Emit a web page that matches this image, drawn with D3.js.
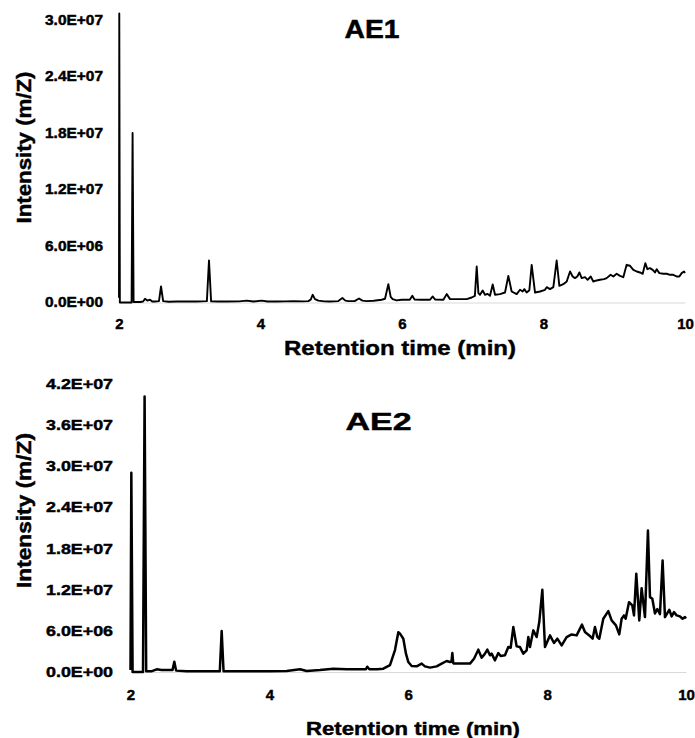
<!DOCTYPE html>
<html>
<head>
<meta charset="utf-8">
<script src="https://cdn.jsdelivr.net/npm/d3@7"></script>
<style>
  html, body { margin: 0; padding: 0; background: #fff; }
  text { font-family: "Liberation Sans", Arial, sans-serif; font-weight: bold; fill: #000; stroke: #000; stroke-width: 0.45px; }
</style>
</head>
<body>
<svg id="mainsvg" width="695" height="738"></svg>
<script>
// values in 1e6 (m/Z intensity), time in min
const ae1Time = [2.000, 2.004, 2.012, 2.100, 2.178, 2.192, 2.206, 2.300, 2.340, 2.368, 2.400, 2.438, 2.470, 2.509, 2.565, 2.594, 2.624, 2.700, 2.815, 2.950,
  3.098, 3.242, 3.272, 3.302, 3.400, 3.522, 3.700, 3.805, 3.899, 4.016, 4.100, 4.229, 4.350, 4.464, 4.600, 4.676, 4.710, 4.737, 4.770, 4.818,
  4.900, 4.982, 5.100, 5.157, 5.200, 5.241, 5.330, 5.392, 5.440, 5.500, 5.600, 5.712, 5.760, 5.807, 5.840, 5.868, 5.924, 5.995, 6.066, 6.110,
  6.146, 6.180, 6.255, 6.396, 6.434, 6.470, 6.585, 6.632, 6.679, 6.800, 6.914, 6.985, 7.030, 7.056, 7.080, 7.103, 7.140, 7.173, 7.206, 7.244,
  7.282, 7.315, 7.385, 7.456, 7.503, 7.550, 7.621, 7.668, 7.706, 7.729, 7.762, 7.800, 7.833, 7.880, 7.951, 8.021, 8.045, 8.092, 8.139, 8.186,
  8.224, 8.280, 8.328, 8.375, 8.412, 8.445, 8.478, 8.507, 8.540, 8.587, 8.624, 8.667, 8.704, 8.751, 8.799, 8.855, 8.893, 8.949, 8.987, 9.034,
  9.081, 9.128, 9.175, 9.223, 9.270, 9.317, 9.364, 9.402, 9.439, 9.468, 9.505, 9.543, 9.576, 9.600, 9.637, 9.694, 9.741, 9.788, 9.835, 9.882,
  9.920, 9.953, 9.986, 10.000];
const ae1Intensity = [0.5, 30.7, 0.0, 0.0, 0.0, 18.0, 0.05, 0.05, 0.1, 0.39, 0.2, 0.29, 0.1, 0.11, 0.15, 1.70, 0.15, 0.08, 0.1, 0.1,
  0.11, 0.15, 4.46, 0.12, 0.1, 0.1, 0.12, 0.2, 0.1, 0.2, 0.1, 0.1, 0.12, 0.15, 0.12, 0.15, 0.3, 0.82, 0.36, 0.2,
  0.12, 0.1, 0.15, 0.47, 0.2, 0.15, 0.15, 0.43, 0.2, 0.15, 0.18, 0.29, 0.4, 1.95, 0.6, 0.36, 0.22, 0.29, 0.29, 0.29,
  0.71, 0.3, 0.29, 0.29, 0.64, 0.3, 0.29, 0.89, 0.36, 0.36, 0.36, 0.53, 0.7, 3.82, 1.0, 0.82, 1.28, 0.82, 0.92, 0.71,
  1.91, 0.82, 0.89, 1.06, 2.83, 1.17, 0.89, 1.35, 1.17, 1.42, 1.06, 1.3, 4.00, 1.06, 1.17, 1.35, 1.63, 1.42, 1.63, 4.46,
  1.77, 1.95, 2.23, 3.29, 2.76, 2.59, 2.76, 3.19, 2.59, 2.69, 2.41, 2.76, 2.23, 2.34, 2.41, 2.48, 2.59, 2.94, 2.76, 3.05,
  2.83, 2.69, 4.00, 3.90, 3.47, 3.29, 3.19, 3.05, 4.18, 3.54, 3.65, 3.47, 3.19, 3.54, 3.12, 3.05, 3.05, 2.94, 2.94, 2.76,
  2.76, 3.12, 3.29, 3.12];

const ae2Time = [2.000, 2.012, 2.030, 2.100, 2.180, 2.203, 2.226, 2.300, 2.377, 2.449, 2.569, 2.605, 2.631, 2.657, 2.809, 3.000, 3.193, 3.286, 3.313, 3.340,
  3.500, 3.769, 4.000, 4.249, 4.441, 4.537, 4.729, 4.921, 5.113, 5.305, 5.390, 5.410, 5.440, 5.550, 5.641, 5.737, 5.809, 5.857, 5.881, 5.929,
  5.967, 6.001, 6.049, 6.121, 6.193, 6.241, 6.313, 6.409, 6.481, 6.553, 6.601, 6.622, 6.635, 6.648, 6.659, 6.745, 6.889, 6.947, 7.009, 7.057,
  7.100, 7.139, 7.177, 7.201, 7.249, 7.297, 7.331, 7.393, 7.441, 7.475, 7.513, 7.561, 7.609, 7.657, 7.705, 7.729, 7.753, 7.801, 7.849, 7.887,
  7.931, 7.969, 8.041, 8.099, 8.147, 8.209, 8.281, 8.353, 8.425, 8.502, 8.545, 8.607, 8.655, 8.689, 8.723, 8.751, 8.809, 8.881, 8.929, 8.991,
  9.039, 9.073, 9.107, 9.131, 9.179, 9.227, 9.251, 9.284, 9.327, 9.361, 9.409, 9.452, 9.481, 9.515, 9.553, 9.587, 9.625, 9.663, 9.697, 9.759,
  9.793, 9.827, 9.865, 9.913, 9.951, 9.985, 10.000];
const ae2Intensity = [0.3, 29.0, 0.0, 0.0, 0.0, 40.1, 0.1, 0.1, 0.39, 0.29, 0.29, 0.3, 1.5, 0.2, 0.1, 0.1, 0.1, 0.1, 5.96, 0.1,
  0.1, 0.1, 0.12, 0.15, 0.39, 0.15, 0.29, 0.48, 0.39, 0.39, 0.4, 0.77, 0.4, 0.39, 0.48, 1.0, 3.2, 5.8, 5.58, 4.85,
  2.67, 1.45, 0.87, 0.82, 1.22, 0.82, 0.64, 0.82, 1.22, 1.6, 1.45, 1.5, 2.76, 1.3, 1.22, 1.22, 1.22, 1.94, 3.25, 2.09,
  2.6, 3.25, 2.43, 2.67, 1.70, 2.76, 2.33, 2.43, 3.63, 3.53, 6.54, 3.73, 3.63, 2.67, 3.15, 5.09, 3.63, 6.06, 5.09, 7.27,
  11.97, 3.63, 5.33, 4.22, 4.85, 3.88, 5.09, 5.47, 5.33, 6.89, 5.81, 5.33, 4.85, 6.54, 5.09, 4.85, 7.76, 8.87, 7.51, 6.79,
  5.47, 7.76, 8.24, 7.76, 10.17, 9.69, 8.24, 14.3, 7.51, 12.21, 7.99, 20.6, 10.9, 10.65, 8.53, 9.17, 8.43, 16.24, 7.99, 9.06,
  8.09, 8.72, 8.24, 8.09, 7.76, 7.99, 7.8];

const xTicks = [2, 4, 6, 8, 10];
const ae1YTicks = [0, 6e6, 12e6, 18e6, 24e6, 30e6];
const ae2YTicks = [0, 6e6, 12e6, 18e6, 24e6, 30e6, 36e6, 42e6];
const xAxisLabel = 'Retention time (min)';
const yAxisLabel = 'Intensity (m/Z)';

const svg = d3.select('#mainsvg');

// 3.0E+07 style
const sciFormat = (v) => {
    if (v === 0) return '0.0E+00';
    const e = Math.floor(Math.log10(v));
    const m = v / Math.pow(10, e);
    return m.toFixed(1) + 'E+' + String(e).padStart(2, '0');
};

const panels = [
    {
        name: 'AE1', time: ae1Time, values: ae1Intensity, yTicks: ae1YTicks, yMax: 30e6,
        xRange: [119, 685], yRange: [302.5, 20], lineWidth: 1.9,
        yTickSize: 14, yTickLen: 58, yTickOff: -16, xTickY: 26,
        title: { x: 372, y: 38, size: 25, len: 55 },
        xLab: { x: 400, y: 355, size: 21, len: 232 },
        yLab: { x: 24, y: 147.5, size: 21, len: 152 }
    },
    {
        name: 'AE2', time: ae2Time, values: ae2Intensity, yTicks: ae2YTicks, yMax: 42e6,
        xRange: [130.5, 686], yRange: [672, 383.5], lineWidth: 2.5,
        yTickSize: 15, yTickLen: 67, yTickOff: -17.5, xTickY: 27.5,
        title: { x: 378.5, y: 430, size: 24, len: 66 },
        xLab: { x: 413, y: 735, size: 19, len: 214 },
        yLab: { x: 24, y: 510.5, size: 21, len: 155 }
    }
];

panels.forEach(p => {
    const data = p.time.map((t, i) => ({ t: t, v: p.values[i] * 1e6 }));
    const xScale = d3.scaleLinear().domain([2, 10]).range(p.xRange);
    const yScale = d3.scaleLinear().domain([0, p.yMax]).range(p.yRange);
    const g = svg.append('g').attr('class', 'panel-' + p.name);

    // x axis: light gray line, bold labels, no ticks
    const xAxis = d3.axisBottom(xScale).tickValues(xTicks).tickSize(0).tickFormat(d3.format('d'));
    const xg = g.append('g').attr('transform', `translate(0, ${yScale(0)})`).call(xAxis);
    xg.select('.domain').attr('stroke', '#d9d9d9').attr('stroke-width', 1.2);
    xg.selectAll('.tick text')
        .attr('y', p.xTickY).attr('dy', 0)
        .attr('font-size', 15).attr('font-family', '"Liberation Sans", Arial, sans-serif')
        .attr('font-weight', 'bold').attr('fill', '#000');

    // y axis: labels only
    const yAxis = d3.axisLeft(yScale).tickValues(p.yTicks).tickSize(0).tickFormat(sciFormat);
    const yg = g.append('g').attr('transform', `translate(${xScale(2)}, 0)`).call(yAxis);
    yg.select('.domain').remove();
    yg.selectAll('.tick text')
        .attr('x', p.yTickOff)
        .attr('font-size', p.yTickSize).attr('font-family', '"Liberation Sans", Arial, sans-serif')
        .attr('font-weight', 'bold').attr('fill', '#000')
        .attr('textLength', p.yTickLen).attr('lengthAdjust', 'spacingAndGlyphs');

    const line = d3.line()
        .x(d => xScale(d.t))
        .y(d => yScale(d.v));
    g.append('path').datum(data)
        .attr('fill', 'none')
        .attr('stroke', '#000')
        .attr('stroke-width', p.lineWidth)
        .attr('stroke-linejoin', 'round')
        .attr('d', line);

    g.append('text')
        .attr('x', p.title.x).attr('y', p.title.y)
        .attr('text-anchor', 'middle')
        .attr('font-size', p.title.size)
        .attr('textLength', p.title.len).attr('lengthAdjust', 'spacingAndGlyphs')
        .text(p.name);

    g.append('text')
        .attr('x', p.xLab.x).attr('y', p.xLab.y)
        .attr('text-anchor', 'middle')
        .attr('font-size', p.xLab.size)
        .attr('textLength', p.xLab.len).attr('lengthAdjust', 'spacingAndGlyphs')
        .text(xAxisLabel);

    g.append('text')
        .attr('transform', `translate(${p.yLab.x}, ${p.yLab.y}) rotate(-90)`)
        .attr('text-anchor', 'middle')
        .attr('dy', '0.35em')
        .attr('font-size', p.yLab.size)
        .attr('textLength', p.yLab.len).attr('lengthAdjust', 'spacingAndGlyphs')
        .text(yAxisLabel);
});
</script>
</body>
</html>
